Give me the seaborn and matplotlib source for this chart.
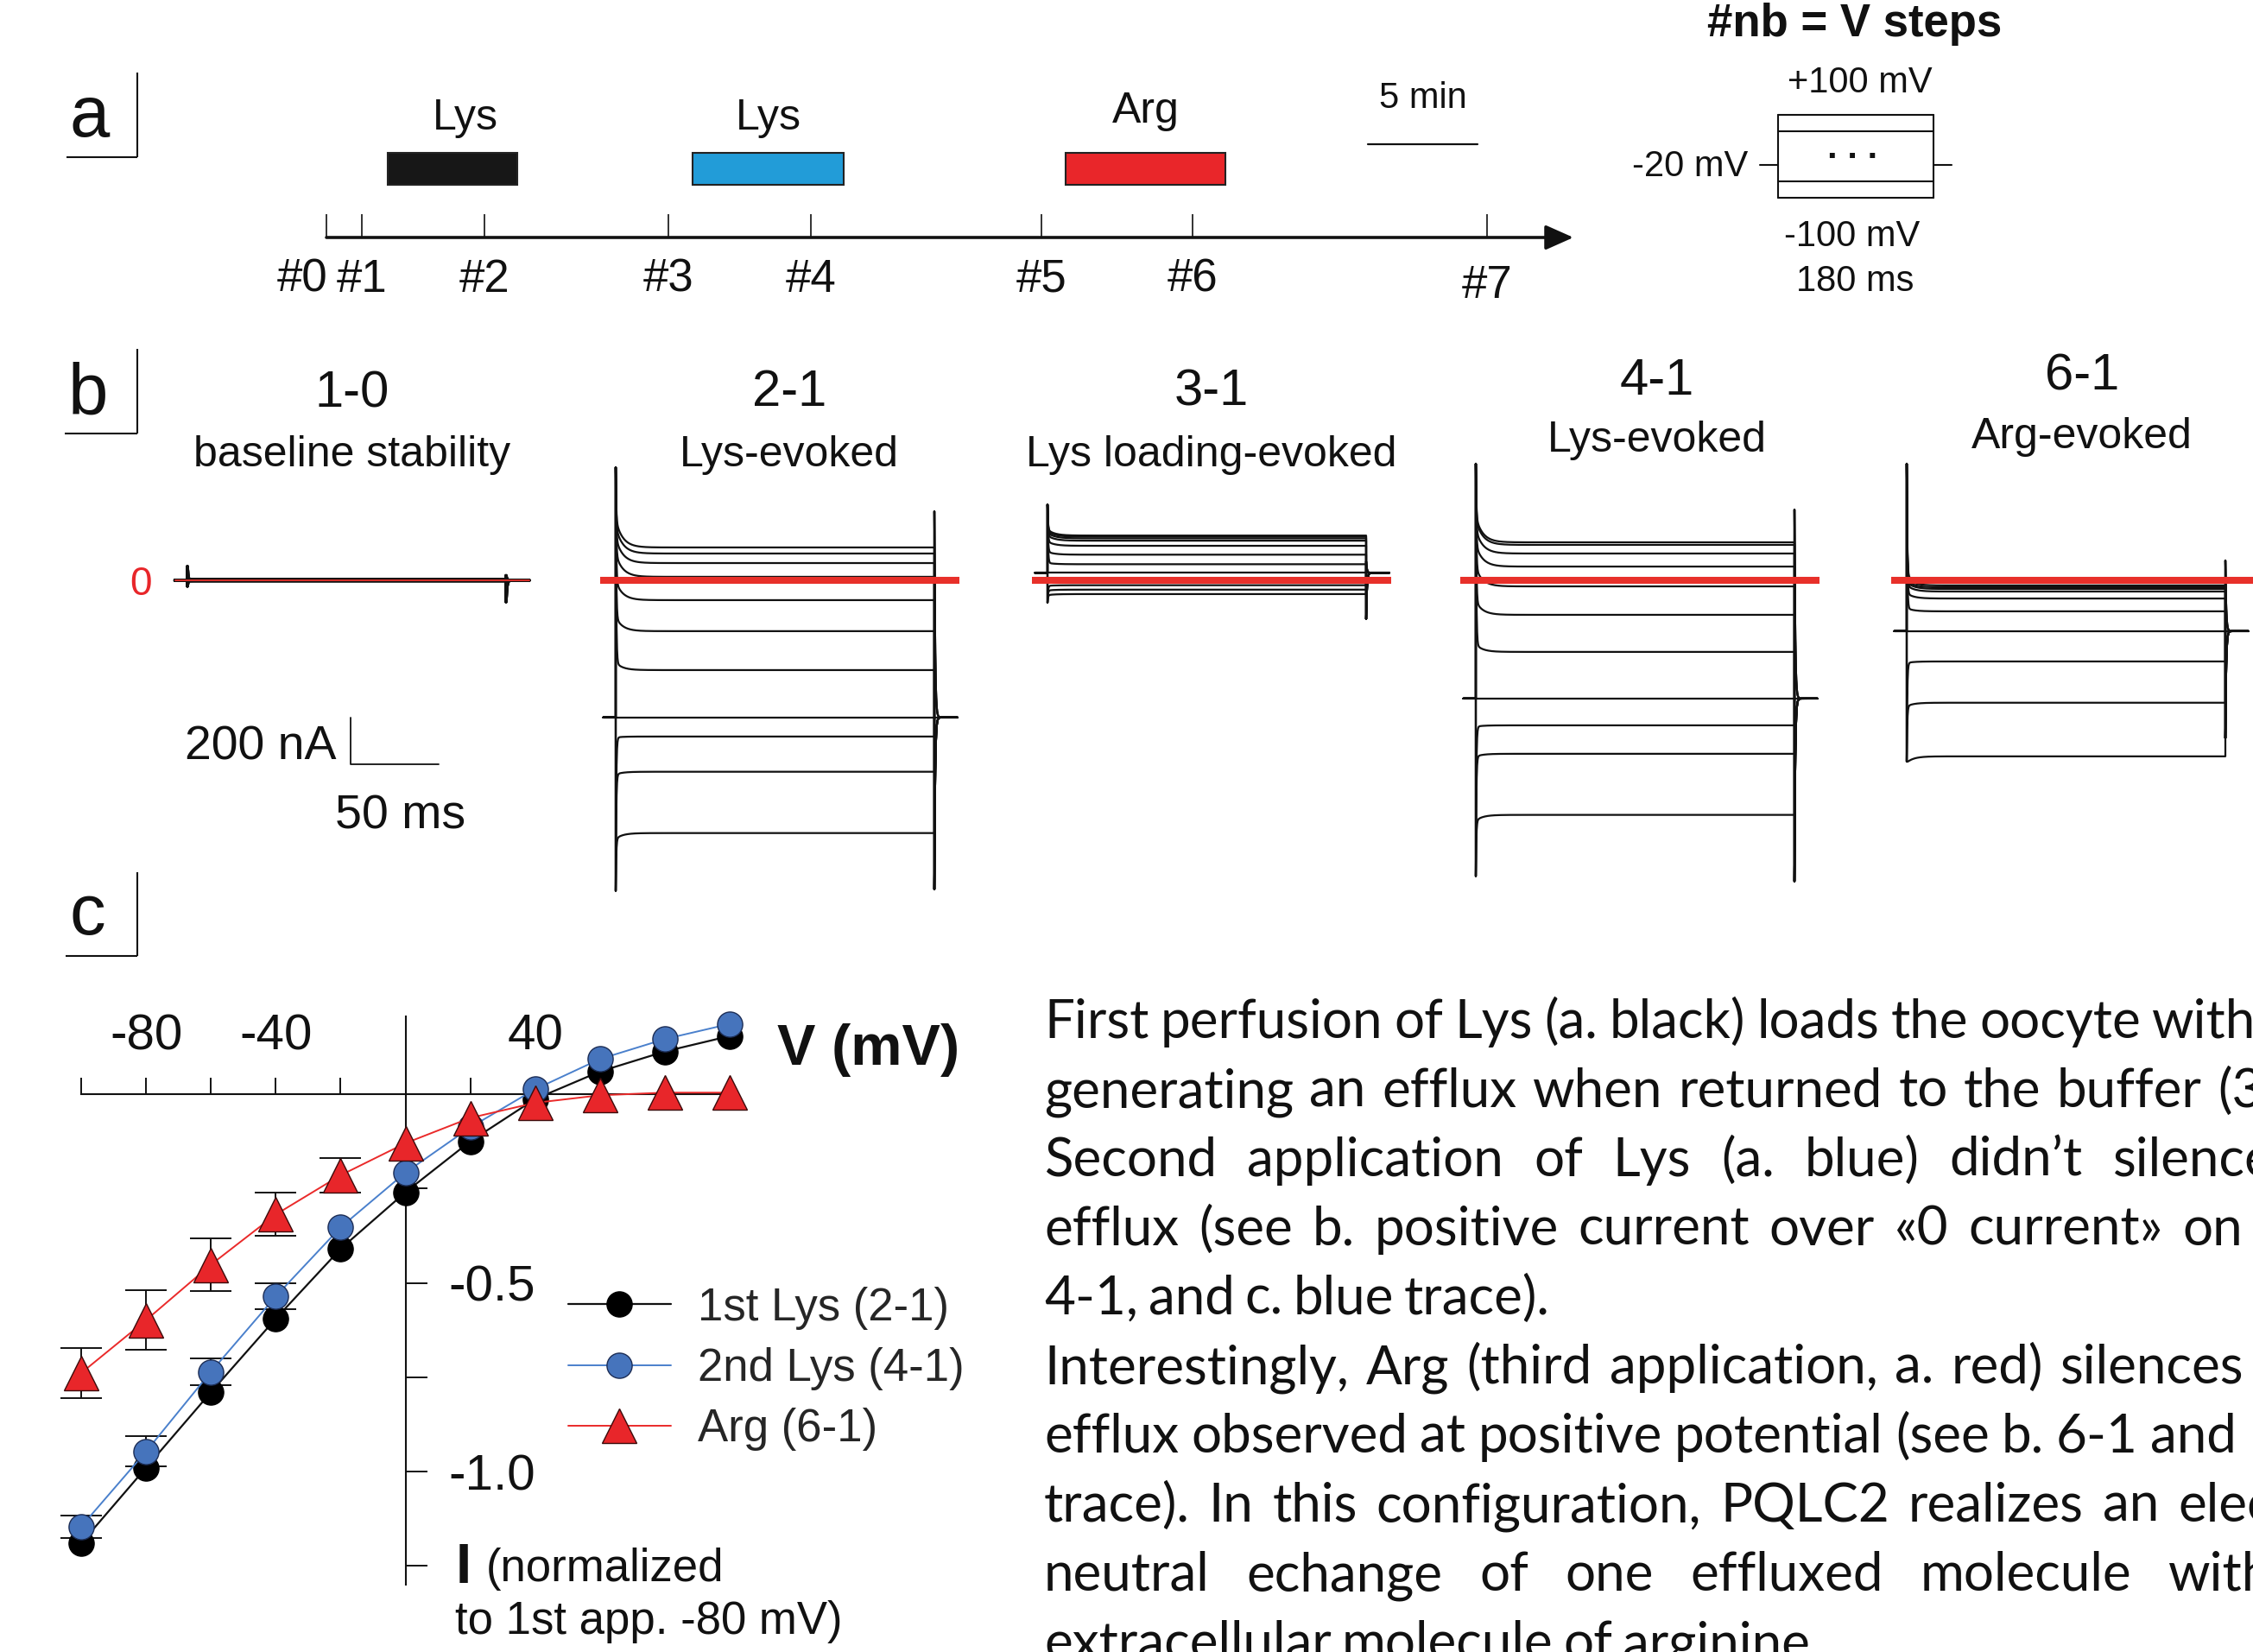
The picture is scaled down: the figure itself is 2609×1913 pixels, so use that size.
import numpy as np
import pandas as pd
import matplotlib
matplotlib.use("Agg")
import matplotlib.pyplot as plt
import seaborn as sns

# ---------------------------------------------------------------- data
# panel a : sampling points (min) and amino-acid applications
sample_labels = ["#0", "#1", "#2", "#3", "#4", "#5", "#6", "#7"]
sample_times = [0.0, 1.6, 7.2, 15.6, 22.1, 32.6, 39.5, 52.9]
app_labels = ["Lys", "Lys", "Arg"]
app_start = [2.8, 16.7, 33.7]
app_end = [8.7, 23.6, 41.0]
app_colors = ["#171717", "#229cd8", "#e9262a"]

# panel b : steady-state currents (nA) of the 11 voltage steps (+100 ... -100 mV)
b_titles = ["1-0", "2-1", "3-1", "4-1", "6-1"]
b_subtitles = ["baseline stability", "Lys-evoked", "Lys loading-evoked", "Lys-evoked", "Arg-evoked"]
lv_10 = [4, 3, 2, 1, 1, 0, 0, -1, -1, -2, -3]
lv_21 = [141, 115, 74, 15, -85, -218, -385, -588, -670, -821, -1084]
lv_31 = [192, 187, 180, 170, 148, 110, 69, 32, -21, -40, -59]
lv_41 = [163, 152, 115, 59, -26, -148, -307, -507, -622, -744, -1006]
lv_61 = [-11, -22, -30, -37, -48, -78, -133, -218, -348, -525, -755]
hold_b = [0, -588, 32, -507, -218]
on_peak_hi = [59, 485, 325, 500, 500]
on_peak_lo = [-25, -1332, -96, -1269, -777]
off_peak_hi = [20, 296, 81, 303, 85]
off_peak_lo = [-92, -1325, -166, -1291, -677]

# panel c : normalized I/V (mean, and sem where the bars show)
V_mV = [-100, -80, -60, -40, -20, 0, 20, 40, 60, 80, 100]
I_lys1 = [-1.19, -0.99, -0.79, -0.595, -0.41, -0.26, -0.125, -0.013, 0.06, 0.113, 0.154]
I_lys2 = [-1.146, -0.947, -0.736, -0.536, -0.353, -0.208, -0.088, 0.013, 0.093, 0.146, 0.186]
I_arg = [-0.739, -0.599, -0.452, -0.319, -0.215, -0.13, -0.063, -0.023, -0.003, 0.004, 0.004]
sem_lys1 = [0, 0, 0, 0, 0, 0, 0, 0, 0, 0, 0]
sem_lys2 = [0.03, 0.04, 0.035, 0.034, 0, 0, 0, 0, 0, 0, 0]
sem_arg = [0.067, 0.079, 0.07, 0.057, 0.045, 0, 0, 0, 0, 0, 0]
series_names = ["1st Lys (2-1)", "2nd Lys (4-1)", "Arg (6-1)"]

para_lines = [
    "First perfusion of Lys (a. black) loads the oocyte with",
    "generating an efflux when returned to the buffer (3-1).",
    "Second application of Lys (a. blue) didn\u2019t silence",
    "efflux (see b. positive current over \u00ab0 current\u00bb on",
    "4-1, and c. blue trace).",
    "Interestingly, Arg (third application, a. red) silences",
    "efflux observed at positive potential (see b. 6-1 and",
    "trace). In this configuration, PQLC2 realizes an electro-",
    "neutral echange of one effluxed molecule with",
    "extracellular molecule of arginine.",
]

# ---------------------------------------------------------------- layout
W, H, DPI = 2609, 1913, 100
sns.set_style("white")
plt.rcParams["font.family"] = ["Liberation Sans", "DejaVu Sans"]
TXT = "#111111"

fig = plt.figure(figsize=(W / DPI, H / DPI), dpi=DPI)
fig.patch.set_facecolor("white")
ov = fig.add_axes([0, 0, 1, 1])
ov.set_xlim(0, W)
ov.set_ylim(H, 0)
ov.axis("off")


def px_axes(x0, y0, x1, y1):
    ax = fig.add_axes([x0 / W, 1 - y1 / H, (x1 - x0) / W, (y1 - y0) / H])
    ax.patch.set_visible(False)
    return ax


def bracket(xv, ytop, ybot, xl):
    ov.plot([xv, xv], [ytop, ybot], color=TXT, lw=1.5, solid_capstyle="butt")
    ov.plot([xl, xv], [ybot, ybot], color=TXT, lw=1.5, solid_capstyle="butt")


# panel letters
ov.text(80, 158, "a", fontsize=60, color=TXT, va="baseline", ha="left")
bracket(159, 84, 182, 77)
ov.text(79, 480, "b", fontsize=60, color=TXT, va="baseline", ha="left")
bracket(159, 404, 502, 75)
ov.text(80, 1082, "c", fontsize=60, color=TXT, va="baseline", ha="left")
bracket(159, 1010, 1107, 76)

# ---------------------------------------------------------------- panel a
PX_PER_MIN = 25.4
T0_PX = 378
ax_a = px_axes(300, 60, 1900, 360)
ax_a.set_xlim((300 - T0_PX) / PX_PER_MIN, (1900 - T0_PX) / PX_PER_MIN)
ax_a.set_ylim(360, 60)
ax_a.axis("off")
t_arrow_end = (1822 - T0_PX) / PX_PER_MIN
ax_a.annotate("", xy=(t_arrow_end, 275), xytext=(0, 275),
              arrowprops=dict(arrowstyle="-|>,head_length=0.9,head_width=0.4", lw=2.6,
                              color=TXT, shrinkA=0, shrinkB=0, mutation_scale=22))
ax_a.vlines(sample_times, 248, 275, color=TXT, lw=1.2)
for i, (t, lab) in enumerate(zip(sample_times, sample_labels)):
    dx = -1.1 if i == 0 else 0.0
    base = 345 if i == 7 else 338
    ax_a.text(t + dx, base, lab, fontsize=38, ha="center", va="baseline", color=TXT)
app_label_dx = [0.6, 0.0, 0.0]
for s, e, lab, c, ldx in zip(app_start, app_end, app_labels, app_colors, app_label_dx):
    ax_a.barh(195.5, e - s, left=s, height=37, color=c, edgecolor="#222222", linewidth=1.5)
    ax_a.text((s + e) / 2 + ldx, 150 if lab == "Lys" else 142, lab, fontsize=36,
              ha="center", va="baseline", color=TXT)
sb0 = (1584 - T0_PX) / PX_PER_MIN
ax_a.plot([sb0, sb0 + 5], [167, 167], color=TXT, lw=1.6)
ax_a.text(sb0 + 2.5, 125, "5 min", fontsize=30, ha="center", va="baseline", color=TXT)

# protocol sketch
ov.text(2148, 42, "#nb = V steps", fontsize=38, weight="bold", ha="center", va="baseline", color=TXT)
ov.text(2154, 107, "+100 mV", fontsize=30, ha="center", va="baseline", color=TXT)
ov.text(2024, 204, "-20 mV", fontsize=30, ha="right", va="baseline", color=TXT)
ov.text(2145, 285, "-100 mV", fontsize=30, ha="center", va="baseline", color=TXT)
ov.text(2148, 337, "180 ms", fontsize=30, ha="center", va="baseline", color=TXT)
for yy in (133, 152, 210, 229):
    ov.plot([2059, 2239], [yy, yy], color=TXT, lw=1.5)
ov.plot([2059, 2059], [133, 229], color=TXT, lw=1.5)
ov.plot([2239, 2239], [133, 229], color=TXT, lw=1.5)
ov.plot([2038, 2059], [191, 191], color=TXT, lw=1.5)
ov.plot([2239, 2260], [191, 191], color=TXT, lw=1.5)
ov.text(2145, 183, ". . .", fontsize=30, weight="bold", ha="center", va="baseline", color=TXT)

# ---------------------------------------------------------------- panel b
PX_PER_MS = 2.05
PX_PER_NA = 0.27
ZERO_Y = 672
DUR, PRE, POST = 180.0, 7.0, 13.0
onset_px = [217, 713, 1213, 1709, 2208]
levels_all = [lv_10, lv_21, lv_31, lv_41, lv_61]
title_x = [408, 914, 1403, 1919, 2411]
title_base = [471, 470, 469, 457, 451]
sub_base = [540, 540, 540, 523, 519]
red_end = [DUR + POST, 194, 194, 194, 220]


def trace_xy(level, hold, onh, onl, offh, offl):
    d = level - hold
    if d > 0:
        pk, opk = onh, offl
        slow = 0.16 * d
    elif d < 0:
        pk, opk = onl, offh
        slow = 0.05 * d
    else:
        pk, opk, slow = level, hold, 0.0
    t_on = np.linspace(0, DUR, 700)
    y_on = level + (pk - level - slow) * np.exp(-t_on / 0.3) + slow * np.exp(-t_on / 4.0)
    t_off = np.linspace(0, POST, 200)
    y_off = hold + (opk - hold) * np.exp(-t_off / 0.45)
    t = np.concatenate([[-PRE, 0.0], t_on, DUR + t_off])
    y = np.concatenate([[hold, hold], y_on, y_off])
    return t, y


for i in range(5):
    x0 = onset_px[i]
    ax = px_axes(x0 - 60, 520, x0 + 440, 1050)
    ax.set_xlim(-60 / PX_PER_MS, 440 / PX_PER_MS)
    ax.set_ylim((ZERO_Y - 1050) / PX_PER_NA, (ZERO_Y - 520) / PX_PER_NA)
    ax.axis("off")
    for lev in levels_all[i]:
        t, y = trace_xy(lev, hold_b[i], on_peak_hi[i], on_peak_lo[i], off_peak_hi[i], off_peak_lo[i])
        ax.plot(t, y, color=TXT, lw=2.6 if i == 0 else 1.6, zorder=2)
    if i == 0:
        ax.plot([-PRE, red_end[i]], [0, 0], color="#e8302a", lw=1.3, zorder=3)
        # scale bar 200 nA / 50 ms
        sx = (406 - x0) / PX_PER_MS
        sy = (ZERO_Y - 885) / PX_PER_NA
        ax.plot([sx, sx, sx + 50], [sy + 200, sy, sy], color=TXT, lw=1.3, zorder=3)
    else:
        ax.plot([-9, red_end[i]], [0, 0], color="#e8302a", lw=5.8, zorder=3, solid_capstyle="butt")
    ov.text(title_x[i], title_base[i], b_titles[i], fontsize=43, ha="center", va="baseline", color=TXT)
    ov.text(title_x[i], sub_base[i], b_subtitles[i], fontsize=36, ha="center", va="baseline", color=TXT)

ov.text(163, 689, "0", fontsize=33, color="#e8262a", ha="center", va="baseline")
ov.text(389, 880, "200 nA", fontsize=40, ha="right", va="baseline", color=TXT)
ov.text(464, 959, "50 ms", fontsize=40, ha="center", va="baseline", color=TXT)

# ---------------------------------------------------------------- panel c
V_PX0, V_SCALE = 94, 3.755       # px at -100 mV, px per mV
I_PX0, I_SCALE = 1267, 437       # px at 0, px per unit
ax_c = px_axes(V_PX0 - 15 * V_SCALE, I_PX0 - 0.3 * I_SCALE, V_PX0 + 215 * V_SCALE, I_PX0 + 1.4 * I_SCALE)
ax_c.set_xlim(-115, 115)
ax_c.set_ylim(-1.4, 0.3)

df = pd.DataFrame({
    "V": V_mV * 3,
    "I": I_lys1 + I_lys2 + I_arg,
    "sem": sem_lys1 + sem_lys2 + sem_arg,
    "series": sum([[n] * len(V_mV) for n in series_names], []),
})
styles = {
    series_names[0]: dict(color="#111111", marker="o", markersize=21, markerfacecolor="#000000",
                          markeredgecolor="#000000", lw=1.6, z=4),
    series_names[1]: dict(color="#4a80cc", marker="o", markersize=21, markerfacecolor="#4674bc",
                          markeredgecolor="#1c2d55", lw=1.4, z=5),
    series_names[2]: dict(color="#ea2a2a", marker="^", markersize=29, markerfacecolor="#e8262a",
                          markeredgecolor="#3a0a0a", lw=1.4, z=6),
}
for name in series_names:
    sub = df[df["series"] == name]
    st = styles[name]
    eb = sub[sub["sem"] > 0]
    if len(eb):
        ax_c.errorbar(eb["V"], eb["I"], yerr=eb["sem"], fmt="none", ecolor=TXT,
                      elinewidth=1.4, capsize=17, capthick=1.4, zorder=3.5)
    sns.lineplot(data=sub, x="V", y="I", ax=ax_c, color=st["color"], marker=st["marker"],
                 markersize=st["markersize"], markerfacecolor=st["markerfacecolor"],
                 markeredgecolor=st["markeredgecolor"], markeredgewidth=1.0,
                 linewidth=st["lw"], label=name, errorbar=None, zorder=st["z"])

ax_c.set_xlabel("")
ax_c.set_ylabel("")
for s in ("left", "bottom"):
    ax_c.spines[s].set_visible(False)
ax_c.spines["top"].set_position(("data", 0))
ax_c.spines["top"].set_bounds(-100, 100)
ax_c.spines["right"].set_position(("data", 0))
ax_c.spines["right"].set_bounds(-1.30, 0.206)
for s in ("top", "right"):
    ax_c.spines[s].set_linewidth(1.5)
    ax_c.spines[s].set_color(TXT)
    ax_c.spines[s].set_zorder(1)
ax_c.xaxis.set_ticks_position("top")
ax_c.set_xticks(V_mV)
ax_c.set_xticklabels(["" if v not in (-80, -40, 40) else str(v) for v in V_mV])
ax_c.tick_params(axis="x", direction="out", length=13.7, width=1.4, pad=15, labelsize=42,
                 top=True, labeltop=True, bottom=False, labelbottom=False, colors=TXT)
ax_c.yaxis.set_ticks_position("right")
y_ticks = [0.0, -0.25, -0.5, -0.75, -1.0, -1.25]
ax_c.set_yticks(y_ticks)
ax_c.set_yticklabels(["-0.5" if v == -0.5 else "-1.0" if v == -1.0 else "" for v in y_ticks])
ax_c.tick_params(axis="y", direction="out", length=18, width=1.4, pad=18, labelsize=42,
                 right=True, labelright=True, left=False, labelleft=False, colors=TXT)
ax_c.grid(False)

handles, labels = ax_c.get_legend_handles_labels()
leg_h = [handles[labels.index(n)] for n in series_names]
if ax_c.get_legend() is not None:
    ax_c.get_legend().remove()
ax_c.legend(leg_h, series_names, loc="center left", bbox_to_anchor=(658 / W, 1 - 1585 / H),
            bbox_transform=fig.transFigure, frameon=False, fontsize=38, borderpad=0,
            borderaxespad=0, handlelength=2.25, handletextpad=0.6, labelspacing=0.38)

ov.text(900, 1233, "V (mV)", fontsize=48, weight="bold", ha="left", va="baseline", color=TXT)
ov.text(528, 1833, "I", fontsize=47, weight="bold", ha="left", va="baseline", color=TXT)
ov.text(563, 1831, "(normalized", fontsize=38, ha="left", va="baseline", color=TXT)
ov.text(527, 1892, "to 1st app. -80 mV)", fontsize=38, ha="left", va="baseline", color=TXT)

# ---------------------------------------------------------------- text block
PFONT = ["Lato", "DejaVu Sans"]
PARA_X0, PARA_BASE0, PARA_STEP = 1209, 1202, 80
para_last_x = [2492, 2568, 2447, 2527, None, 2386, 2490, 2522, 2511, None]
SPACE_FACTOR = 0.75
renderer = fig.canvas.get_renderer()


def text_w(s, fs):
    t = ov.text(0, 0, s, fontsize=fs, family=PFONT)
    w = t.get_window_extent(renderer).width
    t.remove()
    return w


ref_words = "First perfusion of Lys (a. black) loads the oocyte".split(" ")
sp40 = text_w("n n", 40) - text_w("nn", 40)
w40 = sum(text_w(wd, 40) for wd in ref_words) + SPACE_FACTOR * sp40 * (len(ref_words) - 1)
pfs = 40 * 1259 / w40
space_w = SPACE_FACTOR * sp40 * pfs / 40
for k, line in enumerate(para_lines):
    words = line.split(" ")
    widths = [text_w(wd, pfs) for wd in words]
    if para_last_x[k] is None:
        gap = space_w
    else:
        gap = (para_last_x[k] - PARA_X0 - sum(widths[:-1])) / (len(words) - 1)
    x = PARA_X0
    yb = PARA_BASE0 + k * PARA_STEP
    for wd, wdt in zip(words, widths):
        ov.text(x, yb, wd, fontsize=pfs, family=PFONT, ha="left", va="baseline", color=TXT)
        x += wdt + gap

fig.savefig("out.png", dpi=DPI, facecolor="white")
